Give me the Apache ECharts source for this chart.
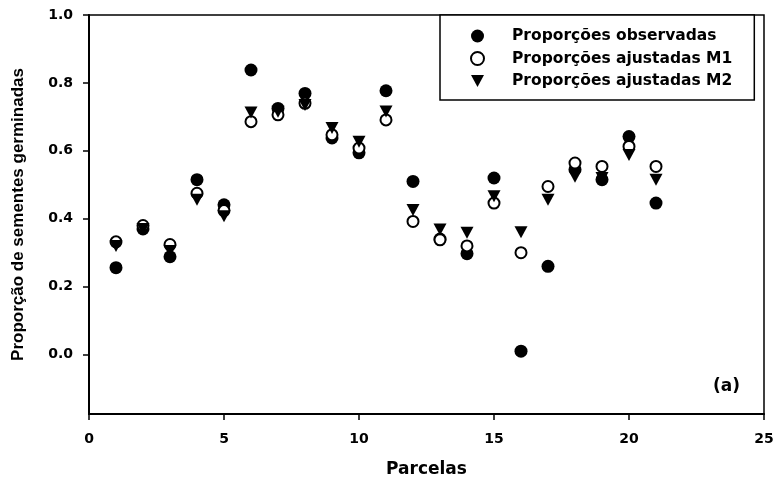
<!DOCTYPE html>
<html><head><meta charset="utf-8">
<script src="https://cdn.jsdelivr.net/npm/echarts@6/dist/echarts.min.js"></script>
<style>html,body{margin:0;padding:0;background:#fff}#c{width:777px;height:484px}</style>
</head><body><div id="c"></div>
<script>
const parcelas = [1,2,3,4,5,6,7,8,9,10,11,12,13,14,15,16,17,18,19,20,21];
const observadas = [0.256,0.370,0.288,0.515,0.441,0.838,0.725,0.769,0.638,0.594,0.777,0.510,0.340,0.297,0.520,0.010,0.260,0.545,0.515,0.642,0.446];
const ajustadasM1 = [0.332,0.380,0.324,0.475,0.424,0.686,0.706,0.740,0.647,0.608,0.691,0.392,0.338,0.320,0.446,0.300,0.495,0.564,0.554,0.613,0.554];
const ajustadasM2 = [0.320,0.370,0.305,0.456,0.407,0.713,0.715,0.735,0.667,0.627,0.716,0.426,0.368,0.359,0.466,0.360,0.456,0.524,0.520,0.588,0.515];
const yTicks = [0,0.2,0.4,0.6,0.8,1.0];
const xTicks = [0,5,10,15,20,25];
const seriesNames = ['Proporções observadas','Proporções ajustadas M1','Proporções ajustadas M2'];

const pair = arr => parcelas.map((p,i)=>[p,arr[i]]);
const F = '"DejaVu Sans", Verdana, sans-serif';
const FA = '"Liberation Sans", Arial, sans-serif';
const TRI = 'path://M0,0L12,0L6,11Z';
const chart = echarts.init(document.getElementById('c'));
chart.setOption({
  animation:false,
  backgroundColor:'#fff',
  grid:{left:89,right:13,top:15,bottom:70,show:true,borderColor:'#000',borderWidth:1.5,backgroundColor:'transparent'},
  xAxis:{type:'value',min:0,max:25,
    axisLine:{onZero:false,lineStyle:{color:'#000',width:2}},
    axisTick:{customValues:xTicks,length:6,lineStyle:{color:'#000',width:1.5}},
    axisLabel:{customValues:xTicks,color:'#000',fontFamily:F,fontWeight:'bold',fontSize:14,margin:18},
    splitLine:{show:false},
    name:'Parcelas',nameLocation:'middle',nameGap:47,
    nameTextStyle:{color:'#000',fontFamily:F,fontWeight:'bold',fontSize:17}},
  yAxis:{type:'value',min:-0.175,max:1.0,
    axisLine:{onZero:false,lineStyle:{color:'#000',width:2}},
    axisTick:{customValues:yTicks,length:6,lineStyle:{color:'#000',width:1.5}},
    axisLabel:{customValues:yTicks,color:'#000',fontFamily:F,fontWeight:'bold',fontSize:14,margin:16,
      formatter:v=>v.toFixed(1)},
    splitLine:{show:false},
    name:'Proporção de sementes germinadas',nameLocation:'middle',nameGap:62,
    nameTextStyle:{color:'#000',fontFamily:FA,fontWeight:'bold',fontSize:17}},
  legend:{orient:'vertical',left:440,top:15,
    padding:[13,22,11,30],itemGap:6.5,itemWidth:13,itemHeight:13,
    borderColor:'#000',borderWidth:1.5,backgroundColor:'#fff',
    textStyle:{color:'#000',fontFamily:F,fontWeight:'bold',fontSize:15.5,padding:[0,0,0,23]},
    data:[{name:seriesNames[0],icon:'circle'},{name:seriesNames[1],icon:'circle'},{name:seriesNames[2],icon:TRI}]},
  graphic:[{type:'text',left:713,top:378,style:{text:'(a)',fill:'#000',font:'bold 17px "DejaVu Sans", sans-serif'}}],
  series:[
    {name:seriesNames[0],type:'scatter',symbol:'circle',symbolSize:13,z:2,
     itemStyle:{color:'#000',opacity:1},data:pair(observadas)},
    {name:seriesNames[1],type:'scatter',symbol:'circle',symbolSize:11,z:3,
     itemStyle:{color:'#fff',borderColor:'#000',borderWidth:2,opacity:1},data:pair(ajustadasM1)},
    {name:seriesNames[2],type:'scatter',symbol:TRI,symbolSize:[13,12],z:4,
     itemStyle:{color:'#000',opacity:1},data:pair(ajustadasM2)}
  ]
});
</script></body></html>
